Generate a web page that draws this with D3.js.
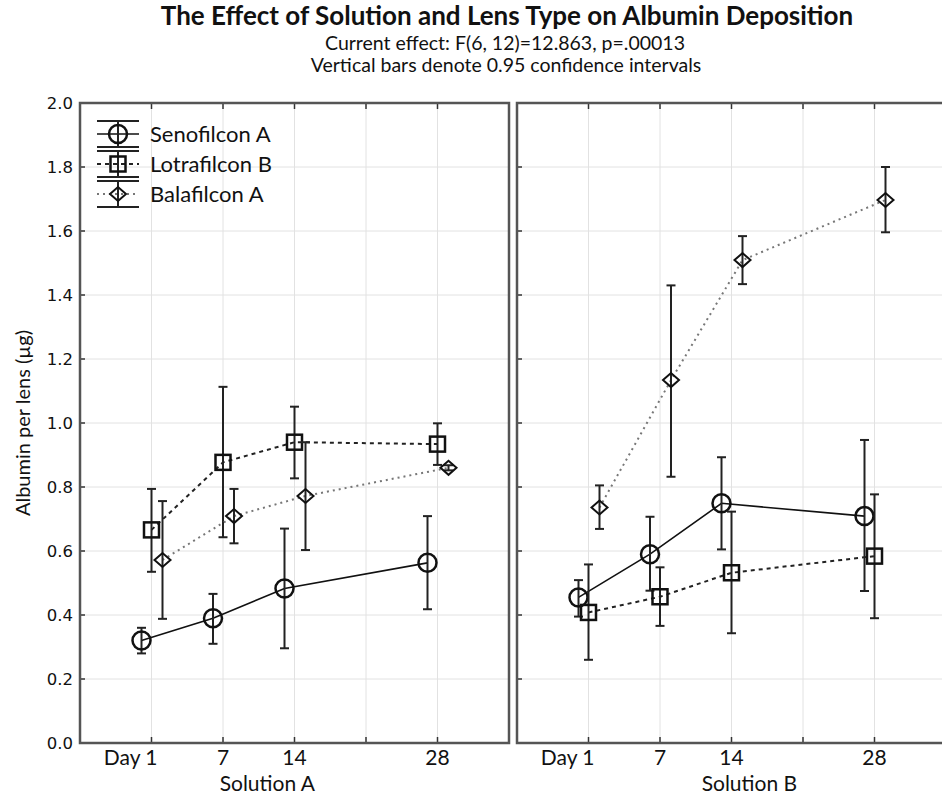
<!DOCTYPE html>
<html>
<head>
<meta charset="utf-8">
<script src="https://cdn.jsdelivr.net/npm/d3@7"></script>
<style>
  body { margin: 0; background: #fff; }
  text { fill: #111; }
</style>
</head>
<body>
<div id="chart"></div>
<script>
// days on the x axis (tick positions 1..5), tick labels
const days = [1, 7, 14, 21, 28];
const tickLabels = ["Day 1", "7", "14", "", "28"];
const dataDays = [1, 7, 14, 28];
const panels = ["Solution A", "Solution B"];
const seriesNames = ["Senofilcon A", "Lotrafilcon B", "Balafilcon A"];
const yTicks = [0, 0.2, 0.4, 0.6, 0.8, 1.0, 1.2, 1.4, 1.6, 1.8, 2.0];

// Solution A
const senoA = [0.32, 0.39, 0.483, 0.563];
const senoA_lo = [0.28, 0.31, 0.296, 0.418];
const senoA_hi = [0.36, 0.466, 0.67, 0.709];
const lotraA = [0.666, 0.877, 0.94, 0.934];
const lotraA_lo = [0.535, 0.643, 0.827, 0.869];
const lotraA_hi = [0.794, 1.113, 1.051, 0.999];
const balaA = [0.572, 0.709, 0.772, 0.86];
const balaA_lo = [0.388, 0.624, 0.603, 0.852];
const balaA_hi = [0.756, 0.794, 0.94, 0.868];

// Solution B
const senoB = [0.455, 0.59, 0.749, 0.709];
const senoB_lo = [0.395, 0.476, 0.605, 0.475];
const senoB_hi = [0.509, 0.707, 0.893, 0.947];
const lotraB = [0.408, 0.457, 0.532, 0.584];
const lotraB_lo = [0.26, 0.366, 0.343, 0.39];
const lotraB_hi = [0.558, 0.549, 0.723, 0.777];
const balaB = [0.736, 1.134, 1.509, 1.697];
const balaB_lo = [0.669, 0.832, 1.434, 1.596];
const balaB_hi = [0.805, 1.43, 1.584, 1.80];

const W = 942, H = 795;
const panelData = [
  [[senoA, senoA_lo, senoA_hi], [lotraA, lotraA_lo, lotraA_hi], [balaA, balaA_lo, balaA_hi]],
  [[senoB, senoB_lo, senoB_hi], [lotraB, lotraB_lo, lotraB_hi], [balaB, balaB_lo, balaB_hi]]
];
const panelLeft = [80, 517];
const panelW = 429;
const panelTitlePos = [2.62, 3.25]; // in x-index units, as placed in the original
const plotTop = 103, plotBottom = 743;

// series styling
const styles = [
  { shape: "circle", dash: null, lineColor: "#111", lineW: 1.6, dx: -10 },
  { shape: "square", dash: "4,4", lineColor: "#222", lineW: 2, dx: 0 },
  { shape: "diamond", dash: "2,4", lineColor: "#777", lineW: 2, dx: 11 }
];

const svg = d3.select("#chart").append("svg")
  .attr("width", W).attr("height", H)
  .style("font-family", "Lato, sans-serif");

const y = d3.scaleLinear().domain([0, 2]).range([plotBottom, plotTop]);

function marker(g, shape, cx, cy) {
  if (shape === "circle") {
    g.append("circle").attr("cx", cx).attr("cy", cy).attr("r", 9)
      .attr("fill", "none").attr("stroke", "#111").attr("stroke-width", 2.5);
  } else if (shape === "square") {
    g.append("rect").attr("x", cx - 7.5).attr("y", cy - 7.5).attr("width", 15).attr("height", 15)
      .attr("fill", "none").attr("stroke", "#111").attr("stroke-width", 2.5);
  } else {
    g.append("path").attr("d", `M${cx - 8},${cy}L${cx},${cy - 7}L${cx + 8},${cy}L${cx},${cy + 7}Z`)
      .attr("fill", "none").attr("stroke", "#111").attr("stroke-width", 2);
  }
}

panels.forEach((pname, p) => {
  const x = d3.scaleLinear().domain([0, 6]).range([panelLeft[p], panelLeft[p] + panelW]);
  const g = svg.append("g");
  const idx = d => days.indexOf(d) + 1;

  // grid
  g.selectAll(".gy").data(yTicks.slice(1, -1)).enter().append("line")
    .attr("x1", x(0)).attr("x2", x(6)).attr("y1", d => y(d)).attr("y2", d => y(d))
    .attr("stroke", "#e2e2e2").attr("stroke-width", 1);
  g.selectAll(".gx").data(days).enter().append("line")
    .attr("x1", d => x(idx(d))).attr("x2", d => x(idx(d))).attr("y1", y(0)).attr("y2", y(2))
    .attr("stroke", "#e2e2e2").attr("stroke-width", 1);

  // inward ticks
  days.forEach(d => {
    g.append("line").attr("x1", x(idx(d))).attr("x2", x(idx(d))).attr("y1", y(0)).attr("y2", y(0) - 6)
      .attr("stroke", "#333").attr("stroke-width", 1.5);
    g.append("line").attr("x1", x(idx(d))).attr("x2", x(idx(d))).attr("y1", y(2)).attr("y2", y(2) + 6)
      .attr("stroke", "#333").attr("stroke-width", 1.5);
  });
  yTicks.forEach(v => {
    g.append("line").attr("x1", x(0)).attr("x2", x(0) + 5).attr("y1", y(v)).attr("y2", y(v))
      .attr("stroke", "#333").attr("stroke-width", 1.5);
  });

  // frame
  g.append("rect").attr("x", x(0)).attr("y", y(2)).attr("width", x(6) - x(0)).attr("height", y(0) - y(2))
    .attr("fill", "none").attr("stroke", "#555").attr("stroke-width", 2.5);

  // x tick labels
  days.forEach((d, i) => {
    const lbl = tickLabels[i];
    if (!lbl) return;
    g.append("text")
      .attr("x", i === 0 ? x(idx(d)) + 6 : x(idx(d)))
      .attr("y", 765)
      .attr("text-anchor", i === 0 ? "end" : "middle")
      .attr("font-size", 21).text(lbl);
  });
  g.append("text").attr("x", x(panelTitlePos[p])).attr("y", 791).attr("text-anchor", "middle")
    .attr("font-size", 21).text(pname);

  // series
  panelData[p].forEach((s, si) => {
    const st = styles[si];
    const [m, lo, hi] = s;
    const pts = dataDays.map((d, i) => [x(idx(d)) + st.dx, y(m[i])]);
    g.append("path").attr("d", d3.line()(pts))
      .attr("fill", "none").attr("stroke", st.lineColor).attr("stroke-width", st.lineW)
      .attr("stroke-dasharray", st.dash);
    dataDays.forEach((d, i) => {
      const cx = x(idx(d)) + st.dx;
      g.append("line").attr("x1", cx).attr("x2", cx).attr("y1", y(lo[i])).attr("y2", y(hi[i]))
        .attr("stroke", "#222").attr("stroke-width", 2);
      [lo[i], hi[i]].forEach(v => {
        g.append("line").attr("x1", cx - 4.5).attr("x2", cx + 4.5).attr("y1", y(v)).attr("y2", y(v))
          .attr("stroke", "#222").attr("stroke-width", 2);
      });
      marker(g, st.shape, cx, y(m[i]));
    });
  });
});

// y axis labels
yTicks.forEach(v => {
  svg.append("text").attr("x", 73).attr("y", y(v) + 6).attr("text-anchor", "end")
    .attr("font-family", "DejaVu Sans, sans-serif").attr("font-size", 16.5).text(v.toFixed(1));
});
svg.append("text").attr("transform", `translate(30,${(plotTop + plotBottom) / 2}) rotate(-90)`)
  .attr("text-anchor", "middle").attr("font-size", 20).text("Albumin per lens (µg)");

// titles
svg.append("text").attr("x", 507).attr("y", 25).attr("text-anchor", "middle")
  .attr("font-size", 26).attr("font-weight", "bold")
  .text("The Effect of Solution and Lens Type on Albumin Deposition");
svg.append("text").attr("x", 505).attr("y", 50).attr("text-anchor", "middle")
  .attr("font-size", 19.5).text("Current effect: F(6, 12)=12.863, p=.00013");
svg.append("text").attr("x", 506).attr("y", 72).attr("text-anchor", "middle")
  .attr("font-size", 19.5).text("Vertical bars denote 0.95 confidence intervals");

// legend
const leg = svg.append("g");
seriesNames.forEach((name, i) => {
  const st = styles[i];
  const cy = 134 + i * 30, cx = 118;
  leg.append("line").attr("x1", 97).attr("x2", 139).attr("y1", cy).attr("y2", cy)
    .attr("stroke", st.lineColor).attr("stroke-width", st.lineW).attr("stroke-dasharray", st.dash);
  leg.append("line").attr("x1", cx).attr("x2", cx).attr("y1", cy - 13).attr("y2", cy + 13)
    .attr("stroke", "#222").attr("stroke-width", 2);
  [cy - 13, cy + 13].forEach(v => {
    leg.append("line").attr("x1", 97).attr("x2", 139).attr("y1", v).attr("y2", v)
      .attr("stroke", "#222").attr("stroke-width", 2);
  });
  marker(leg, st.shape, cx, cy);
  leg.append("text").attr("x", 150).attr("y", cy + 8).attr("font-size", 22).text(name);
});
</script>
</body>
</html>
